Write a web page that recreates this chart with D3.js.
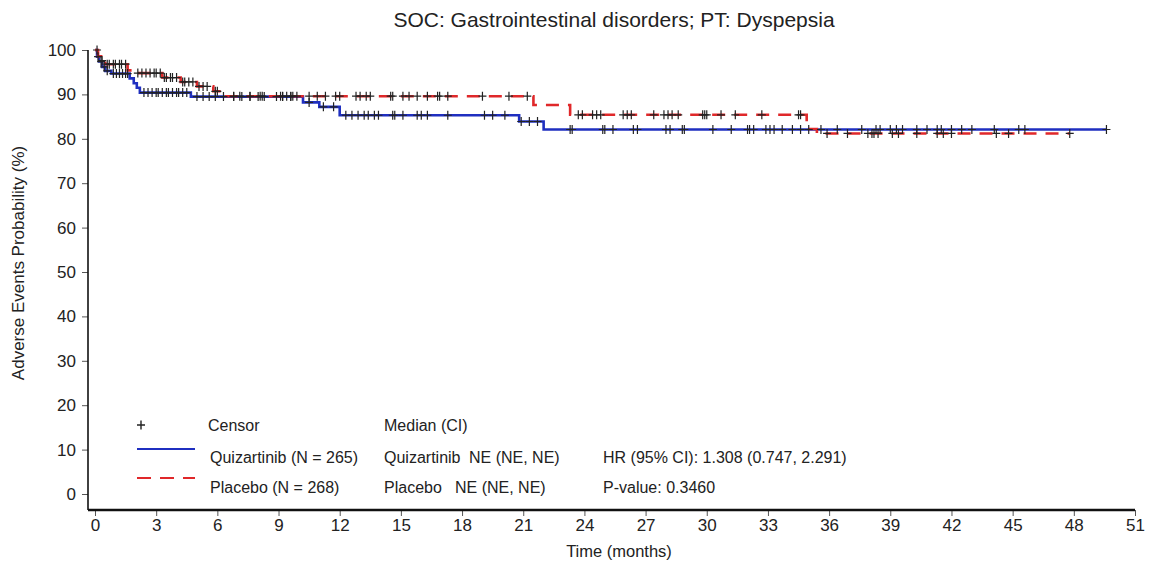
<!DOCTYPE html>
<html>
<head>
<meta charset="utf-8">
<script src="https://cdn.jsdelivr.net/npm/d3@7"></script>
<style>
  body { margin: 0; background: #fff; }
  svg text { font-family: "Liberation Sans", Arial, sans-serif; fill: #222; }
</style>
</head>
<body>
<svg id="chart" width="1154" height="565"></svg>
<script>
// step points (time in months, probability %)
var quizTimes = [0, 0.1, 0.2, 0.35, 0.5, 0.8, 1.7, 1.9, 2.05, 2.2, 4.7, 10.2, 11.0, 12.0, 20.8, 22.0];
var quizSurv  = [100, 98.5, 97.4, 96.2, 95.3, 94.7, 93.6, 92.5, 91.5, 90.4, 89.5, 88.2, 87.2, 85.3, 83.9, 82.1];
var quizCensor = [0.15, 0.3, 0.45, 0.6, 0.9, 1.05, 1.2, 1.35, 1.5, 1.6,
  2.4, 2.6, 2.8, 3.0, 3.1, 3.3, 3.5, 3.6, 3.8, 4.0, 4.1, 4.3, 4.5,
  5.0, 5.3, 5.6, 5.9, 6.3, 6.8, 7.2, 7.6, 8.0, 8.3, 8.9, 9.2, 9.6,
  10.5, 11.2, 11.7,
  12.3, 12.6, 12.9, 13.2, 13.4, 13.7, 13.9, 14.6, 14.7, 15.1, 15.8, 16.0, 16.3, 17.3, 19.1, 19.5, 20.1,
  20.9, 21.3, 21.7,
  23.3, 23.4, 24.9, 25.0, 25.4, 26.4, 26.6, 28.0, 28.2, 28.8, 28.9, 30.3, 31.2, 32.0, 32.1, 32.3,
  32.9, 33.1, 33.3, 33.7, 34.2, 34.6, 35.0, 35.6, 36.4, 37.6, 38.3, 38.5, 39.0, 39.3, 39.6,
  40.3, 40.8, 41.3, 41.5, 42.0, 42.5, 43.0, 44.1, 45.3, 45.6, 49.6];

var placTimes = [0, 0.15, 0.3, 0.5, 1.6, 2.0, 3.3, 4.2, 5.0, 5.8, 6.2, 21.5, 23.3, 34.9, 35.4];
var placSurv  = [100, 98.6, 97.6, 96.8, 95.4, 94.8, 93.8, 92.8, 91.8, 90.7, 89.6, 87.6, 85.4, 82.2, 81.2];
var placCensor = [0.1, 0.35, 0.6, 0.7, 0.9, 1.0, 1.2, 1.3, 1.5,
  2.1, 2.3, 2.5, 2.7, 2.9, 3.0, 3.2, 3.4, 3.5, 3.7, 3.8, 4.0, 4.3, 4.4, 4.6, 4.8, 5.1, 5.3, 5.5, 5.9, 6.0,
  6.8, 7.1, 7.6, 8.1, 8.2, 9.1, 9.2, 9.4, 9.6, 9.7, 9.9, 10.5, 10.9, 11.3, 11.8, 12.0, 12.8, 13.0, 13.3, 13.5,
  14.5, 14.6, 15.1, 15.4, 15.8, 16.3, 16.8, 16.9, 17.3, 19.0, 20.3, 21.2,
  23.7, 23.9, 24.4, 24.6, 24.8, 25.9, 26.1, 26.3, 27.4, 27.9, 28.1, 28.3, 28.6, 29.8, 29.9, 30.0,
  30.7, 31.4, 32.7, 34.5, 34.6,
  35.9, 36.9, 37.9, 38.1, 38.2, 38.4, 39.1, 39.4, 40.3, 41.3, 41.6, 42.0, 44.2, 44.8, 47.8];

var xTicks = d3.range(0, 52, 3);
var yTicks = d3.range(0, 101, 10);

var svg = d3.select("#chart");

var x = d3.scaleLinear().domain([0, 51]).range([95, 1135]);
var y = d3.scaleLinear().domain([0, 100]).range([494, 50]);
var left = 88, bottom = 510;

// title
svg.append("text")
    .attr("x", 614).attr("y", 27)
    .attr("text-anchor", "middle")
    .style("font-size", "21px")
    .text("SOC: Gastrointestinal disorders; PT: Dyspepsia");

// axes
var yAxis = d3.axisLeft(y).tickValues(yTicks).tickSize(6).tickSizeOuter(0).tickPadding(6);
var gy = svg.append("g").attr("transform", "translate(" + left + ",0)").call(yAxis);
gy.select(".domain").remove();
gy.selectAll("line").attr("stroke", "#555");
gy.selectAll("text").style("font-size", "17px").style("fill", "#222");

var xAxis = d3.axisBottom(x).tickValues(xTicks).tickSize(6).tickSizeOuter(0).tickPadding(3);
var gx = svg.append("g").attr("transform", "translate(0," + bottom + ")").call(xAxis);
gx.select(".domain").remove();
gx.selectAll("line").attr("stroke", "#555");
gx.selectAll("text").style("font-size", "17px").style("fill", "#222");

svg.append("line")
    .attr("x1", left).attr("x2", left).attr("y1", y(100)).attr("y2", bottom)
    .attr("stroke", "#111").attr("stroke-width", 1.6);
svg.append("line")
    .attr("x1", left).attr("x2", x(51)).attr("y1", bottom).attr("y2", bottom)
    .attr("stroke", "#111").attr("stroke-width", 2.4);

svg.append("text")
    .attr("transform", "translate(24," + 263 + ") rotate(-90)")
    .attr("text-anchor", "middle")
    .style("font-size", "17px")
    .text("Adverse Events Probability (%)");

svg.append("text")
    .attr("x", 619).attr("y", 557)
    .attr("text-anchor", "middle")
    .style("font-size", "16.5px")
    .text("Time (months)");

// build KM step data
function steps(times, surv, censor) {
    var pts = times.map(function (t, i) { return [t, surv[i]]; });
    var end = d3.max(censor);
    pts.push([end, surv[surv.length - 1]]);
    return pts;
}
function survAt(times, surv, t) {
    var i = d3.bisectRight(times, t) - 1;
    return surv[Math.max(i, 0)];
}

var line = d3.line()
    .x(function (d) { return x(d[0]); })
    .y(function (d) { return y(d[1]); })
    .curve(d3.curveStepAfter);

svg.append("path")
    .datum(steps(quizTimes, quizSurv, quizCensor))
    .attr("d", line)
    .attr("fill", "none")
    .attr("stroke", "#1f2fc0")
    .attr("stroke-width", 2.6);

svg.append("path")
    .datum(steps(placTimes, placSurv, placCensor))
    .attr("d", line)
    .attr("fill", "none")
    .attr("stroke", "#e0282a")
    .attr("stroke-width", 2.6)
    .attr("stroke-dasharray", "13,9");

var cross = "M-4,0H4M0,-4.5V4.5";
function drawCensor(times, surv, censor) {
    svg.append("g").selectAll("path")
        .data(censor)
        .enter()
        .append("path")
        .attr("transform", function (d) {
            return "translate(" + x(d) + "," + y(survAt(times, surv, d)) + ")";
        })
        .attr("d", cross)
        .attr("stroke", "#222")
        .attr("stroke-width", 1.2);
}
drawCensor(quizTimes, quizSurv, quizCensor);
drawCensor(placTimes, placSurv, placCensor);

// legend
var lg = svg.append("g").style("font-size", "16px");
lg.append("path").attr("transform", "translate(141,425)").attr("d", cross)
    .attr("stroke", "#222").attr("stroke-width", 1.4);
lg.append("text").attr("x", 208).attr("y", 431).text("Censor");
lg.append("text").attr("x", 384).attr("y", 431).text("Median (CI)");

lg.append("line").attr("x1", 137).attr("x2", 195).attr("y1", 449).attr("y2", 449)
    .attr("stroke", "#1f2fc0").attr("stroke-width", 2);
lg.append("text").attr("x", 210).attr("y", 463).text("Quizartinib (N = 265)");
lg.append("text").attr("x", 384).attr("y", 463).text("Quizartinib");
lg.append("text").attr("x", 469).attr("y", 463).text("NE (NE, NE)");
lg.append("text").attr("x", 603).attr("y", 463).text("HR (95% CI): 1.308 (0.747, 2.291)");

lg.append("line").attr("x1", 137).attr("x2", 195).attr("y1", 478).attr("y2", 478)
    .attr("stroke", "#e0282a").attr("stroke-width", 2).attr("stroke-dasharray", "14,9");
lg.append("text").attr("x", 210).attr("y", 493).text("Placebo (N = 268)");
lg.append("text").attr("x", 384).attr("y", 493).text("Placebo");
lg.append("text").attr("x", 455).attr("y", 493).text("NE (NE, NE)");
lg.append("text").attr("x", 603).attr("y", 493).text("P-value: 0.3460");
</script>
</body>
</html>
